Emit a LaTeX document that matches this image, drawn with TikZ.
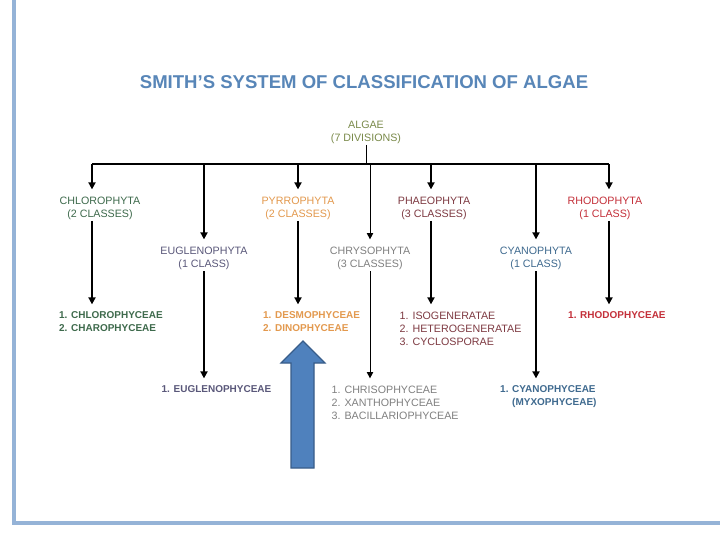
\documentclass[tikz,border=0pt]{standalone}
\usepackage{fontspec}
\setmainfont{Liberation Sans}
\usepackage{tikz}
\usetikzlibrary{arrows.meta}
\usepackage{xcolor}
\definecolor{titleblue}{HTML}{5886B8}
\definecolor{framecol}{HTML}{95B3D7}
\definecolor{algaecol}{HTML}{7A8A4A}
\definecolor{chlcol}{HTML}{3E6A4C}
\definecolor{pyrcol}{HTML}{E3994E}
\definecolor{phacol}{HTML}{7E3A42}
\definecolor{rhocol}{HTML}{C4303A}
\definecolor{eugcol}{HTML}{5A587A}
\definecolor{chrcol}{HTML}{808080}
\definecolor{cyacol}{HTML}{3F6A8F}
\definecolor{bigarrow}{HTML}{4F81BD}
\definecolor{bigarrowline}{HTML}{385D8A}

\begin{document}
\begin{tikzpicture}[
    x=0.025cm, y=-0.025cm,
    every node/.style={font=\fontsize{7.6}{9.2}\selectfont, inner sep=1pt},
    division/.style={align=center},
    classlist/.style={align=left, anchor=north west},
    boldlist/.style={classlist, font=\fontsize{7.1}{9.2}\selectfont\bfseries},
    link/.style={-{Triangle[length=5pt,width=5pt]}, line width=1.5pt, shorten >=4pt},
    thinlink/.style={-{Triangle[length=4.5pt,width=4.5pt]}, line width=0.7pt, shorten >=4pt}
]
    \useasboundingbox[fill=white] (0,0) rectangle (720,540);

    % Cornice
    \draw[framecol, line width=2.5pt] (14,0) -- (14,523) -- (720,523);

    % Titolo
    \node[font=\fontsize{13.2}{15}\selectfont\bfseries, text=titleblue] (title) at (364,82) {SMITH’S SYSTEM OF CLASSIFICATION OF ALGAE};

    % Radice
    \node[division, text=algaecol] (algae) at (366,132) {ALGAE\\(7 DIVISIONS)};
    \coordinate (bar) at (0,164);

    % Divisioni, primo livello
    \node[division, text=chlcol] (chl) at (100,208) {CHLOROPHYTA\\(2 CLASSES)};
    \node[division, text=pyrcol] (pyr) at (298,208) {PYRROPHYTA\\(2 CLASSES)};
    \node[division, text=phacol] (pha) at (434,208) {PHAEOPHYTA\\(3 CLASSES)};
    \node[division, text=rhocol] (rho) at (605,208) {RHODOPHYTA\\(1 CLASS)};

    % Divisioni, secondo livello
    \node[division, text=eugcol] (eug) at (204,258) {EUGLENOPHYTA\\(1 CLASS)};
    \node[division, text=chrcol] (chr) at (370,258) {CHRYSOPHYTA\\(3 CLASSES)};
    \node[division, text=cyacol] (cya) at (536,258) {CYANOPHYTA\\(1 CLASS)};

    % Assi delle frecce
    \coordinate (chlx) at (92,0);
    \coordinate (phax) at (431,0);
    \coordinate (rhox) at (609,0);

    % Classi
    \node[boldlist, text=chlcol] (chlcls) at (57.5,310) {1. CHLOROPHYCEAE\\2. CHAROPHYCEAE};
    \node[boldlist, text=pyrcol] (pyrcls) at (261.5,310) {1. DESMOPHYCEAE\\2. DINOPHYCEAE};
    \node[classlist, text=phacol] (phacls) at (398,310) {1. ISOGENERATAE\\2. HETEROGENERATAE\\3. CYCLOSPORAE};
    \node[boldlist, text=rhocol] (rhocls) at (566.5,310) {1. RHODOPHYCEAE};
    \node[boldlist, text=eugcol] (eugcls) at (160,384) {1. EUGLENOPHYCEAE};
    \node[classlist, text=chrcol] (chrcls) at (330,384) {1. CHRISOPHYCEAE\\2. XANTHOPHYCEAE\\3. BACILLARIOPHYCEAE};
    \node[boldlist, text=cyacol] (cyacls) at (498.5,384) {1. CYANOPHYCEAE\\\phantom{1. }(MYXOPHYCEAE)};

    % Barra orizzontale
    \draw[line width=0.6pt] (algae.south) -- (algae |- bar);
    \draw[line width=1.3pt] (chlx |- bar) -- (rhox |- bar);

    % Connessioni barra -> divisioni
    \draw[link] (chlx |- bar) -- (chlx |- chl.north);
    \draw[link] (pyr |- bar) -- (pyr.north);
    \draw[link] (phax |- bar) -- (phax |- pha.north);
    \draw[link] (rhox |- bar) -- (rhox |- rho.north);
    \draw[link] (eug |- bar) -- (eug.north);
    \draw[thinlink] (chr |- bar) -- (chr.north);
    \draw[link] (cya |- bar) -- (cya.north);

    % Connessioni divisioni -> classi
    \draw[link] (chlx |- chl.south) -- (chlx |- chlcls.north);
    \draw[link] (pyr.south) -- (pyr |- pyrcls.north);
    \draw[link] (phax |- pha.south) -- (phax |- phacls.north);
    \draw[link] (rhox |- rho.south) -- (rhox |- rhocls.north);
    \draw[link] (eug.south) -- (eug |- eugcls.north);
    \draw[thinlink] (chr.south) -- (chr |- chrcls.north);
    \draw[link] (cya.south) -- (cya |- cyacls.north);

    % Freccia blu
    \draw[fill=bigarrow, draw=bigarrowline, line width=0.8pt, line join=miter]
        (291,468) -- (291,363) -- (281,363) -- (303,341) -- (325,363) -- (314,363) -- (314,468) -- cycle;

\end{tikzpicture}
\end{document}
